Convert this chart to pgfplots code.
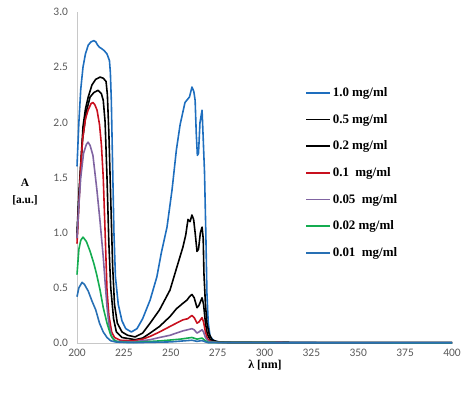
\documentclass[border=0pt]{standalone}
\usepackage{fontspec}
\setmainfont{Carlito}
\newfontfamily\tnr{Liberation Serif}
\usepackage{pgfplots}
\pgfplotsset{compat=1.18}
\definecolor{cblueA}{RGB}{30,110,190}
\definecolor{cblueB}{RGB}{40,112,180}
\definecolor{cred}{RGB}{200,16,30}
\definecolor{cpurple}{RGB}{128,100,162}
\definecolor{cgreen}{RGB}{20,172,80}
\definecolor{ticklab}{RGB}{89,89,89}
\definecolor{axgray}{RGB}{200,200,200}
\begin{document}
\begin{tikzpicture}[x=1bp,y=1bp]
\useasboundingbox (0,0) rectangle (474,392);
\begin{axis}[
  at={(77bp,49bp)}, anchor=origin,
  scale only axis, width=375bp, height=331bp,
  xmin=200, xmax=400, ymin=0, ymax=3,
  axis x line=bottom, axis y line=left,
  axis line style={axgray, line width=0.8pt, -},
  xtick={200,225,...,400}, ytick={0,0.5,...,3},
  major tick length=0pt,
  /pgf/number format/assume math mode=true,
  yticklabel style={/pgf/number format/fixed, /pgf/number format/fixed zerofill, /pgf/number format/precision=1, xshift=-5.5bp},
  xticklabel style={/pgf/number format/fixed, /pgf/number format/precision=0, yshift=-3bp},
  tick label style={font=\fontsize{11.5}{13}\selectfont, text=ticklab},
  clip=false,
  legend style={draw=none, fill=none, at={(0.608,0.778)}, anchor=north west,
    font=\tnr\bfseries\fontsize{13}{15}\selectfont, row sep=12.2bp, inner sep=0pt},
  legend cell align=left,
  legend image code/.code={\draw[#1, line width=1.6pt] (0bp,0bp) -- (24bp,0bp);},
  every axis plot/.append style={line width=1.6pt, line join=round, no marks},
]
\addplot[cblueA] coordinates {(200,1.6)(201,2.0)(202,2.3)(203.2,2.5)(204.5,2.62)(206,2.7)(207.5,2.73)(209,2.74)(210,2.73)(211,2.7)(212,2.68)(213,2.67)(214.5,2.65)(216,2.62)(217.3,2.56)(217.8,2.45)(218.3,2.2)(219,1.6)(219.7,1.0)(220.5,0.6)(222,0.35)(224,0.2)(226,0.13)(229,0.1)(232,0.13)(235,0.22)(239,0.39)(242.6,0.6)(245,0.82)(248,1.05)(250.7,1.39)(253,1.75)(255,1.98)(257.6,2.18)(260,2.23)(261.3,2.32)(262.3,2.28)(263,2.2)(263.6,1.9)(264.2,1.7)(264.8,1.72)(265.6,2.0)(266.7,2.11)(267.2,1.9)(268,1.55)(268.7,1.0)(269.3,0.45)(270,0.18)(271,0.06)(273,0.02)(276,0.01)(300,0.005)(400,0.002)};
\addlegendentry{1.0 mg/ml}
\addplot[black] coordinates {(200,1.0)(201,1.35)(202,1.62)(203.2,1.96)(204.5,2.12)(206,2.23)(208,2.34)(210,2.39)(212.3,2.41)(214,2.40)(215.5,2.37)(216.2,2.25)(217,1.9)(218,1.3)(219,0.7)(220,0.35)(221.5,0.18)(224,0.1)(227,0.07)(231,0.055)(235,0.09)(239,0.18)(244,0.30)(249.6,0.48)(253.3,0.69)(256.5,0.87)(258,0.98)(259.2,1.12)(260.3,1.1)(261.3,1.16)(262.2,1.12)(263,1.0)(264,0.83)(264.8,0.85)(265.8,1.0)(266.7,1.05)(267.3,0.95)(267.7,0.63)(268.5,0.35)(269.3,0.18)(270.5,0.08)(272,0.03)(275,0.01)(280,0.005)(400,0.002)};
\addlegendentry{0.5 mg/ml}
\addplot[black] coordinates {(200,0.95)(201,1.3)(202,1.6)(203,1.85)(205,2.1)(207,2.23)(209,2.27)(211.2,2.29)(213,2.26)(214,2.2)(215,2.0)(216,1.5)(217,0.9)(218,0.5)(219.5,0.22)(221,0.1)(224,0.05)(231,0.03)(235,0.045)(239,0.09)(244,0.15)(249.6,0.24)(253,0.31)(256.5,0.36)(258.7,0.39)(260,0.42)(261.3,0.44)(262.5,0.41)(264,0.32)(265,0.34)(266.7,0.41)(267.5,0.35)(268.5,0.18)(269.5,0.08)(271,0.03)(274,0.01)(280,0.005)(400,0.002)};
\addlegendentry{0.2 mg/ml}
\addplot[cred] coordinates {(200,0.9)(201,1.25)(202,1.6)(203,1.85)(204.5,2.03)(205.9,2.11)(207.5,2.17)(208.5,2.18)(209.5,2.16)(210.7,2.11)(212,1.98)(213,1.8)(214,1.5)(215,1.0)(216,0.48)(217,0.25)(218.5,0.1)(220,0.05)(223,0.025)(230,0.02)(235,0.035)(239,0.06)(244,0.1)(249.6,0.15)(253,0.18)(256.5,0.21)(259,0.22)(261.3,0.25)(262.5,0.23)(264,0.18)(265,0.19)(266.7,0.23)(267.5,0.19)(268.5,0.1)(269.5,0.04)(271,0.015)(275,0.005)(400,0.002)};
\addlegendentry{0.1\ \ mg/ml}
\addplot[cpurple] coordinates {(200,0.95)(201,1.25)(202,1.5)(203.5,1.72)(205,1.8)(205.9,1.82)(207,1.79)(208.5,1.7)(210.6,1.39)(212.3,1.1)(214,0.78)(215,0.55)(216,0.33)(217,0.17)(218.6,0.05)(221,0.015)(230,0.01)(239,0.03)(244,0.05)(249.6,0.07)(253,0.09)(256.5,0.11)(259,0.12)(261.3,0.13)(262.5,0.12)(264,0.09)(265,0.1)(266.7,0.12)(267.5,0.1)(268.5,0.05)(270,0.015)(275,0.005)(400,0.002)};
\addlegendentry{0.05\ \ mg/ml}
\addplot[cgreen] coordinates {(200,0.62)(201,0.85)(202,0.93)(203.2,0.96)(205,0.92)(207,0.83)(209,0.72)(210.5,0.62)(212.3,0.48)(214,0.32)(216,0.18)(218,0.07)(220,0.02)(223,0.008)(230,0.005)(245,0.02)(255,0.035)(261.3,0.05)(264,0.035)(266.7,0.045)(268.5,0.02)(270,0.005)(400,0.002)};
\addlegendentry{0.02 mg/ml}
\addplot[cblueB] coordinates {(200,0.42)(201,0.5)(202.7,0.55)(204,0.53)(206,0.47)(208,0.38)(210,0.3)(212,0.18)(214,0.1)(216,0.05)(218,0.02)(221,0.008)(230,0.003)(250,0.01)(261.3,0.025)(264,0.015)(266.7,0.022)(268.5,0.01)(270,0.003)(400,0.002)};
\addlegendentry{0.01\ \ mg/ml}
\end{axis}
\node[font=\tnr\bfseries\fontsize{11.5}{13}\selectfont] at (25,392-183) {A};
\node[font=\tnr\bfseries\fontsize{11.5}{13}\selectfont] at (25,392-200) {[a.u.]};
\node[font=\tnr\bfseries\fontsize{12}{14}\selectfont] at (265,392-365) {λ [nm]};
\end{tikzpicture}
\end{document}
